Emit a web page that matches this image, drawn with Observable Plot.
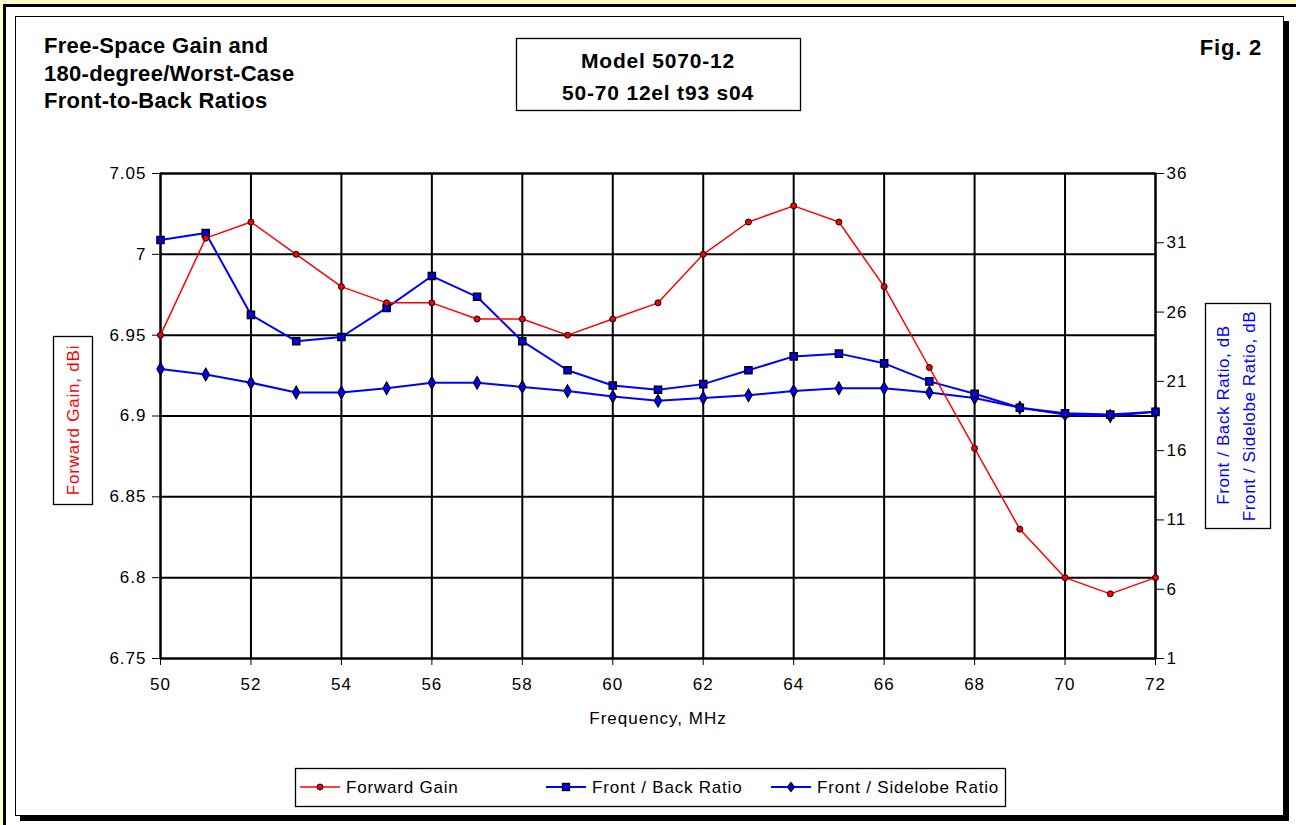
<!DOCTYPE html>
<html>
<head>
<meta charset="utf-8">
<script src="https://cdn.jsdelivr.net/npm/d3@7"></script>
<script src="https://cdn.jsdelivr.net/npm/@observablehq/plot@0.6"></script>
<style>
  html, body { margin: 0; padding: 0; background: #ffffff; }
  #wrap { position: relative; width: 1296px; height: 825px; overflow: hidden; background: #ffffff; font-family: "Liberation Sans", Arial, sans-serif; }
  .abs { position: absolute; }
  #plot { position: absolute; left: 0; top: 0; }
  #plot svg { background: transparent !important; }
</style>
</head>
<body>
<div id="wrap">
  <div class="abs" style="left:0;top:0;width:1296px;height:4px;background:#ffffc8"></div>
  <div class="abs" style="left:0;top:0;width:3px;height:825px;background:#ffffc8"></div>
  <div class="abs" style="left:3px;top:4px;width:1293px;height:3px;background:#000"></div>
  <div class="abs" style="left:3px;top:4px;width:3px;height:821px;background:#000"></div>
  <div class="abs" style="left:15px;top:16px;width:1267px;height:798px;border:1px solid #000;box-shadow:5px 5px 0 #000;background:#fff"></div>
  <div id="plot"></div>
  <svg id="deco" class="abs" style="left:0;top:0" width="1296" height="825"></svg>
</div>
<script>
// ---- data ----
const freq = [50, 51, 52, 53, 54, 55, 56, 57, 58, 59, 60, 61, 62, 63, 64, 65, 66, 67, 68, 69, 70, 71, 72];
const forwardGain = [6.95, 7.01, 7.02, 7.00, 6.98, 6.97, 6.97, 6.96, 6.96, 6.95, 6.96, 6.97, 7.00, 7.02, 7.03, 7.02, 6.98, 6.93, 6.88, 6.83, 6.80, 6.79, 6.80];
const frontBack = [31.2, 31.7, 25.8, 23.9, 24.2, 26.3, 28.6, 27.1, 23.9, 21.8, 20.7, 20.4, 20.8, 21.8, 22.8, 23.0, 22.3, 21.0, 20.1, 19.1, 18.7, 18.6, 18.8];
const frontSide = [21.9, 21.5, 20.9, 20.2, 20.2, 20.5, 20.9, 20.9, 20.6, 20.3, 19.9, 19.6, 19.8, 20.0, 20.3, 20.5, 20.5, 20.2, 19.8, 19.1, 18.6, 18.5, 18.8];
const xTicks = [50, 52, 54, 56, 58, 60, 62, 64, 66, 68, 70, 72];
const leftTicks = [6.75, 6.8, 6.85, 6.9, 6.95, 7, 7.05];
const rightTicks = [1, 6, 11, 16, 21, 26, 31, 36];
const leftDomain = [6.75, 7.05];
const rightDomain = [1, 36];
const seriesNames = ["Forward Gain", "Front / Back Ratio", "Front / Sidelobe Ratio"];

// map right-axis values (dB) onto the left-axis (dBi) scale
const toLeft = v => leftDomain[0] + (v - rightDomain[0]) * (leftDomain[1] - leftDomain[0]) / (rightDomain[1] - rightDomain[0]);
const fromLeft = d => rightDomain[0] + (d - leftDomain[0]) * (rightDomain[1] - rightDomain[0]) / (leftDomain[1] - leftDomain[0]);

const rows = freq.map((f, i) => ({ f, gain: forwardGain[i], fb: toLeft(frontBack[i]), fs: toLeft(frontSide[i]) }));

const red = "#ff0000", blue = "#0000ff";

const chart = Plot.plot({
  width: 1296,
  height: 825,
  marginLeft: 160,
  marginRight: 141,
  marginTop: 173,
  marginBottom: 167,
  style: { fontFamily: "'Liberation Sans', Arial, sans-serif", fontSize: "17px", letterSpacing: "1px", color: "#000", background: "transparent", overflow: "visible" },
  x: { domain: [50, 72] },
  y: { domain: leftDomain },
  marks: [
    Plot.gridX(xTicks, { stroke: "#000", strokeOpacity: 1, strokeWidth: 2 }),
    Plot.gridY(leftTicks, { stroke: "#000", strokeOpacity: 1, strokeWidth: 2 }),
    Plot.frame({ stroke: "#000", strokeWidth: 2 }),
    Plot.axisX(xTicks, { anchor: "bottom", tickSize: 7, tickPadding: 12, tickFormat: d => String(d), label: "Frequency, MHz", labelAnchor: "center", labelArrow: "none", labelOffset: 65 }),
    Plot.axisY(leftTicks, { anchor: "left", tickSize: 8, tickPadding: 6, tickFormat: d => String(+d.toFixed(2)), label: null }),
    Plot.axisY(rightTicks.map(toLeft), { anchor: "right", tickSize: 8, tickPadding: 3, tickFormat: d => String(Math.round(fromLeft(d))), label: null }),
    Plot.line(rows, { x: "f", y: "fs", stroke: blue, strokeWidth: 2 }),
    Plot.line(rows, { x: "f", y: "fb", stroke: blue, strokeWidth: 2 }),
    Plot.line(rows, { x: "f", y: "gain", stroke: red, strokeWidth: 1.5 }),
    Plot.dot(rows, { x: "f", y: "fs", symbol: "diamond", r: 3.8, fill: blue, stroke: "#000", strokeWidth: 1.2 }),
    Plot.dot(rows, { x: "f", y: "fb", symbol: "square", r: 4, fill: blue, stroke: "#000", strokeWidth: 1.5 }),
    Plot.dot(rows, { x: "f", y: "gain", symbol: "circle", r: 3, fill: red, stroke: "#000", strokeWidth: 1 })
  ]
});
document.getElementById("plot").appendChild(chart);

// ---- decorations: titles, boxes, legend ----
const NS = "http://www.w3.org/2000/svg";
const deco = document.getElementById("deco");
function el(tag, attrs, text) {
  const e = document.createElementNS(NS, tag);
  for (const k in attrs) e.setAttribute(k, attrs[k]);
  if (text != null) e.textContent = text;
  deco.appendChild(e);
  return e;
}
const FF = "'Liberation Sans', Arial, sans-serif";
const titleLines = ["Free-Space Gain and", "180-degree/Worst-Case", "Front-to-Back Ratios"];
titleLines.forEach((t, i) => el("text", { x: 44, y: 53 + i * 27.5, "font-family": FF, "font-size": 22, "font-weight": "bold", "letter-spacing": 0.3, fill: "#000" }, t));
el("text", { x: 1262, y: 55, "text-anchor": "end", "font-family": FF, "font-size": 22, "font-weight": "bold", "letter-spacing": 0.8, fill: "#000" }, "Fig. 2");

const boxLines = ["Model 5070-12", "50-70 12el t93 s04"];
el("rect", { x: 516.5, y: 38.5, width: 284, height: 72, fill: "#fff", stroke: "#000", "stroke-width": 1.3 });
boxLines.forEach((t, i) => el("text", { x: 658, y: 68 + i * 32, "text-anchor": "middle", "font-family": FF, "font-size": 21, "font-weight": "bold", "letter-spacing": 0.8, fill: "#000" }, t));

// left axis title
el("rect", { x: 53.5, y: 336.5, width: 39, height: 168, fill: "#fff", stroke: "#000", "stroke-width": 1.3 });
el("text", { transform: "translate(73,420) rotate(-90)", "text-anchor": "middle", "dominant-baseline": "central", "font-family": FF, "font-size": 17, "letter-spacing": 0.8, fill: red, "xml:space": "preserve" }, "Forward Gain,  dBi");
// right axis title
el("rect", { x: 1205.5, y: 303.5, width: 65, height: 225, fill: "#fff", stroke: "#000", "stroke-width": 1.3 });
el("text", { transform: "translate(1223,415) rotate(-90)", "text-anchor": "middle", "dominant-baseline": "central", "font-family": FF, "font-size": 17, "letter-spacing": 0.6, fill: blue, "xml:space": "preserve" }, "Front / Back Ratio,  dB");
el("text", { transform: "translate(1249,416) rotate(-90)", "text-anchor": "middle", "dominant-baseline": "central", "font-family": FF, "font-size": 17, "letter-spacing": 0.6, fill: blue, "xml:space": "preserve" }, "Front / Sidelobe Ratio,  dB");

// legend
el("rect", { x: 295.5, y: 768.5, width: 710, height: 38, fill: "#fff", stroke: "#000", "stroke-width": 1.3 });
const legX = [300, 546, 771];
const legColors = [red, blue, blue];
const ly = 787;
seriesNames.forEach((name, i) => {
  const x0 = legX[i];
  el("line", { x1: x0, x2: x0 + 40, y1: ly, y2: ly, stroke: legColors[i], "stroke-width": i === 0 ? 1.5 : 2 });
  const cx = x0 + 20;
  if (i === 0) el("circle", { cx, cy: ly, r: 3, fill: red, stroke: "#000", "stroke-width": 1 });
  else if (i === 1) el("rect", { x: cx - 3.5, y: ly - 3.5, width: 7, height: 7, fill: blue, stroke: "#000", "stroke-width": 1.4 });
  else el("path", { d: `M${cx},${ly - 4.5}L${cx + 3.5},${ly}L${cx},${ly + 4.5}L${cx - 3.5},${ly}Z`, fill: blue, stroke: "#000", "stroke-width": 1.2 });
  el("text", { x: x0 + 46, y: ly + 6, "font-family": FF, "font-size": 17, "letter-spacing": 0.8, fill: "#000" }, name);
});
</script>
</body>
</html>
